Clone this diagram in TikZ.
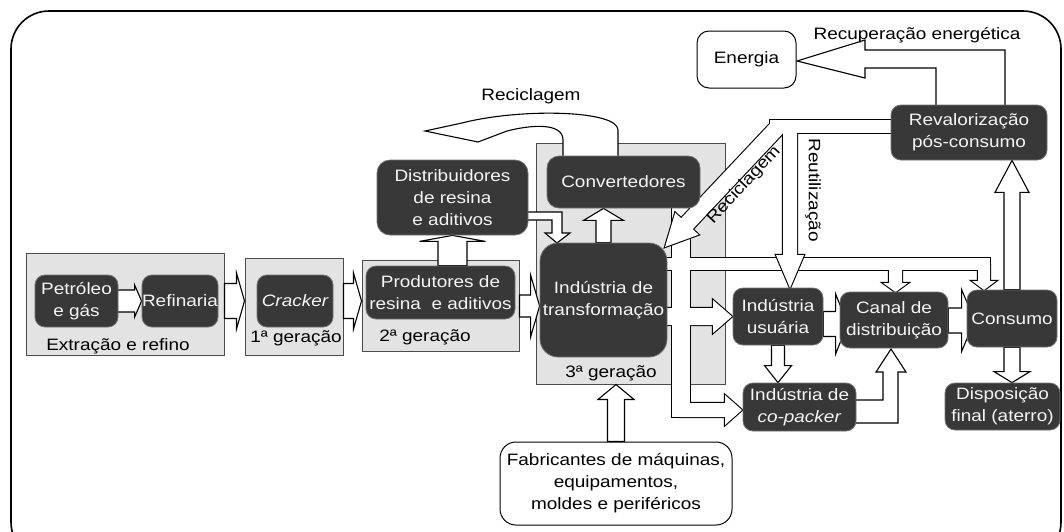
\documentclass[tikz,border=0pt]{standalone}
\usepackage{fontspec}
\setmainfont{Liberation Sans}[FakeStretch=1.15]
\usetikzlibrary{calc}
\pgfdeclarelayer{back}
\pgfdeclarelayer{mid}
\pgfsetlayers{back,mid,main}
\newcommand\rarr[6]{\path[#1] let \p1=(#2), \p2=(#3) in (\x1,\y2+#4pt) -- (\x2-#6pt,\y2+#4pt) -- (\x2-#6pt,\y2+#5pt) -- (\x2,\y2) -- (\x2-#6pt,\y2-#5pt) -- (\x2-#6pt,\y2-#4pt) -- (\x1,\y2-#4pt) -- cycle;}
\newcommand\uarr[6]{\path[#1] let \p1=(#2), \p2=(#3) in (\x2-#4pt,\y1) -- (\x2-#4pt,\y2-#6pt) -- (\x2-#5pt,\y2-#6pt) -- (\x2,\y2) -- (\x2+#5pt,\y2-#6pt) -- (\x2+#4pt,\y2-#6pt) -- (\x2+#4pt,\y1) -- cycle;}
\newcommand\darr[6]{\path[#1] let \p1=(#2), \p2=(#3) in (\x2-#4pt,\y1) -- (\x2-#4pt,\y2+#6pt) -- (\x2-#5pt,\y2+#6pt) -- (\x2,\y2) -- (\x2+#5pt,\y2+#6pt) -- (\x2+#4pt,\y2+#6pt) -- (\x2+#4pt,\y1) -- cycle;}
\newcommand\grpIT[1]{%
 \path[#1] (667,258) rectangle (990,270);
 \path[#1] (889,265) -- (889,283) -- (883,283) -- (895.5,292) -- (908,283) -- (902,283) -- (902,265) -- cycle;
 \path[#1] (978,265) -- (978,281) -- (972,281) -- (984,290) -- (996,281) -- (990,281) -- (990,265) -- cycle;
 \path[#1] (672,208) rectangle (690,417);
 \path[#1] (680,403) -- (725,403) -- (725,395) -- (742,410) -- (725,425) -- (725,417) -- (680,417) -- cycle;
 \path[#1] (660,308) -- (713,308) -- (713,300) -- (732,316.5) -- (713,333) -- (713,325) -- (660,325) -- cycle;}
\newcommand\grpR[1]{%
 \path[#1] (770,120) rectangle (895,133);
 \path[#1] (771.2,122.5) -- (681.1,218.2) -- (675.2,212.7) -- (665,247) -- (698.6,234.7) -- (692.7,229.2) -- (782.8,133.5) -- cycle;
 \path[#1] (783,126) -- (783,255) -- (776,255) -- (790,288) -- (804,255) -- (797,255) -- (797,126) -- cycle;}
\begin{document}
\begin{tikzpicture}[x=1pt,y=-1pt,
  font=\fontsize{16.5}{22}\selectfont,
  dark/.style={draw=black!55, line width=0.8pt, fill=black!78, text=black!4,
    rounded corners=10pt, align=center, inner sep=0pt},
  light/.style={draw=black!70, line width=1pt, fill=black!11, inner sep=0pt},
  wbox/.style={draw=black, line width=1pt, fill=white, rounded corners=12pt,
    align=center, inner sep=0pt},
  barrow/.style={draw=black, line width=1.1pt, fill=white, line join=miter},
  bstroke/.style={draw=black, line width=2.2pt, line join=miter},
  bfill/.style={fill=white},
  lbl/.style={inner sep=0pt, text=black, align=center}]
\useasboundingbox (0,0) rectangle (1064,531);
\clip (0,0) rectangle (1064,531);
\draw[line width=1.6pt, rounded corners=38pt] (11,11) rectangle (1061,560);

% group boxes
\begin{pgfonlayer}{back}
\node[light, minimum width=198, minimum height=102] (g0) at (125,304) {};
\node[light, minimum width=98, minimum height=97] (g1) at (294,306.5) {};
\node[light, minimum width=157, minimum height=91] (g2) at (440.5,305.5) {};
\node[light, minimum width=189, minimum height=241] (g3) at (630.5,263.5) {};
\end{pgfonlayer}

% nodes
\node[dark, minimum width=83, minimum height=52] (petro) at (76.5,301) {Petróleo\\e gás};
\node[dark, minimum width=76, minimum height=52] (refi) at (180,301) {Refinaria};
\node[dark, minimum width=76, minimum height=52] (crack) at (295,301) {\itshape Cracker};
\node[dark, minimum width=149, minimum height=53] (prod) at (440.5,292.5) {Produtores de\\resina\ \ e aditivos};
\node[dark, minimum width=151, minimum height=75, rounded corners=13pt] (dist) at (452.5,197.5) {Distribuidores\\de resina\\e aditivos};
\node[dark, minimum width=153, minimum height=52, rounded corners=12pt] (conv) at (623.5,182) {Convertedores};
\node[dark, minimum width=127, minimum height=114, rounded corners=18pt] (indt) at (603.5,300) {Indústria de\\transformação};
\node[dark, minimum width=90, minimum height=57] (iu) at (778,316.5) {Indústria\\usuária};
\node[dark, minimum width=108, minimum height=56] (canal) at (894,320) {Canal de\\distribuição};
\node[dark, minimum width=90, minimum height=57] (cons) at (1012,318.5) {Consumo};
\node[dark, minimum width=113, minimum height=48] (cop) at (799.5,407) {Indústria de\\\textit{co-packer}};
\node[dark, minimum width=115, minimum height=47] (disp) at (1002.5,406.5) {Disposição\\final (aterro)};
\node[dark, minimum width=156, minimum height=55] (reval) at (969,132.5) {Revalorização\\pós-consumo};
\node[wbox, minimum width=99, minimum height=57] (ener) at (746.5,59.5) {Energia};
\node[wbox, minimum width=232, minimum height=83, rounded corners=16pt] (fab) at (616,483.5) {Fabricantes de máquinas,\\equipamentos,\\moldes e periféricos};

% labels
\node[lbl] (l0) at (118,346) {Extração e refino};
\node[lbl] (l1) at (296,338) {1ª geração};
\node[lbl] (l2) at (425,337) {2ª geração};
\node[lbl] (l3) at (611,373) {3ª geração};
\node[lbl] (lrec) at (531,96) {Reciclagem};
\node[lbl] (lene) at (917,35) {Recuperação energética};
\node[lbl, rotate=47] (lrec2) at (744,185) {Reciclagem};
\node[lbl, rotate=-90] (lreu) at (813,190) {Reutilização};

% arrows
\begin{pgfonlayer}{mid}
\rarr{barrow}{[xshift=-3pt]petro.east}{refi.west}{11}{16}{7}
\rarr{barrow}{g0.east}{g1.west |- crack.west}{17.5}{28}{8}
\rarr{barrow}{g1.east}{g2.west |- crack.west}{17.5}{28}{8}
\rarr{barrow}{g2.east}{[yshift=-6pt]indt.west}{11}{31}{9}
\uarr{barrow}{prod.north}{dist.south}{14.5}{33}{6}
\uarr{barrow}{indt.north}{indt.north |- conv.south}{7.5}{20}{12}
\uarr{barrow}{fab.north}{fab.north |- g3.south}{8.5}{18}{15}
\uarr{barrow}{cons.north}{cons.north |- reval.south}{8}{17}{32}
\darr{barrow}{iu.south}{iu.south |- cop.north}{6.5}{13.5}{17}
\darr{barrow}{cons.south}{cons.south |- disp.north}{8}{18}{11}
\rarr{barrow}{iu.east}{[xshift=8pt,yshift=-4pt]canal.west}{12.5}{30}{12}
\rarr{barrow}{canal.east}{[xshift=8pt,yshift=-2pt]cons.west}{12.5}{31}{13}
% distribuidores -> industria
\path[barrow] (525,212) -- (562,212) -- (562,233) -- (570,233) -- (557,243) -- (545,233) -- (552,233) -- (552,220) -- (525,220) -- cycle;
% co-packer -> canal
\path[barrow] (850,400) -- (883,400) -- (883,372) -- (876,372) -- (891,349) -- (906,372) -- (898,372) -- (898,423) -- (850,423) -- cycle;
% reciclagem (curved)
\path[barrow] (618,160) -- (618,130) .. controls (618,110) and (520,108) .. (462,123) -- (425,131) -- (478,142) -- (507,131) .. controls (530,125) and (563,122) .. (563,140) -- (563,160) -- cycle;
% revalorizacao -> energia
\path[barrow] (1005,108) -- (1005,50) -- (865,50) -- (865,40) -- (797,61) -- (865,78) -- (865,68) -- (936,68) -- (936,108) -- cycle;
% industria de transformacao outputs (merged)
\grpIT{bstroke}
\grpIT{bfill}
% revalorizacao -> reciclagem / reutilizacao (merged)
\grpR{bstroke}
\grpR{bfill}
\end{pgfonlayer}
\end{tikzpicture}
\end{document}
